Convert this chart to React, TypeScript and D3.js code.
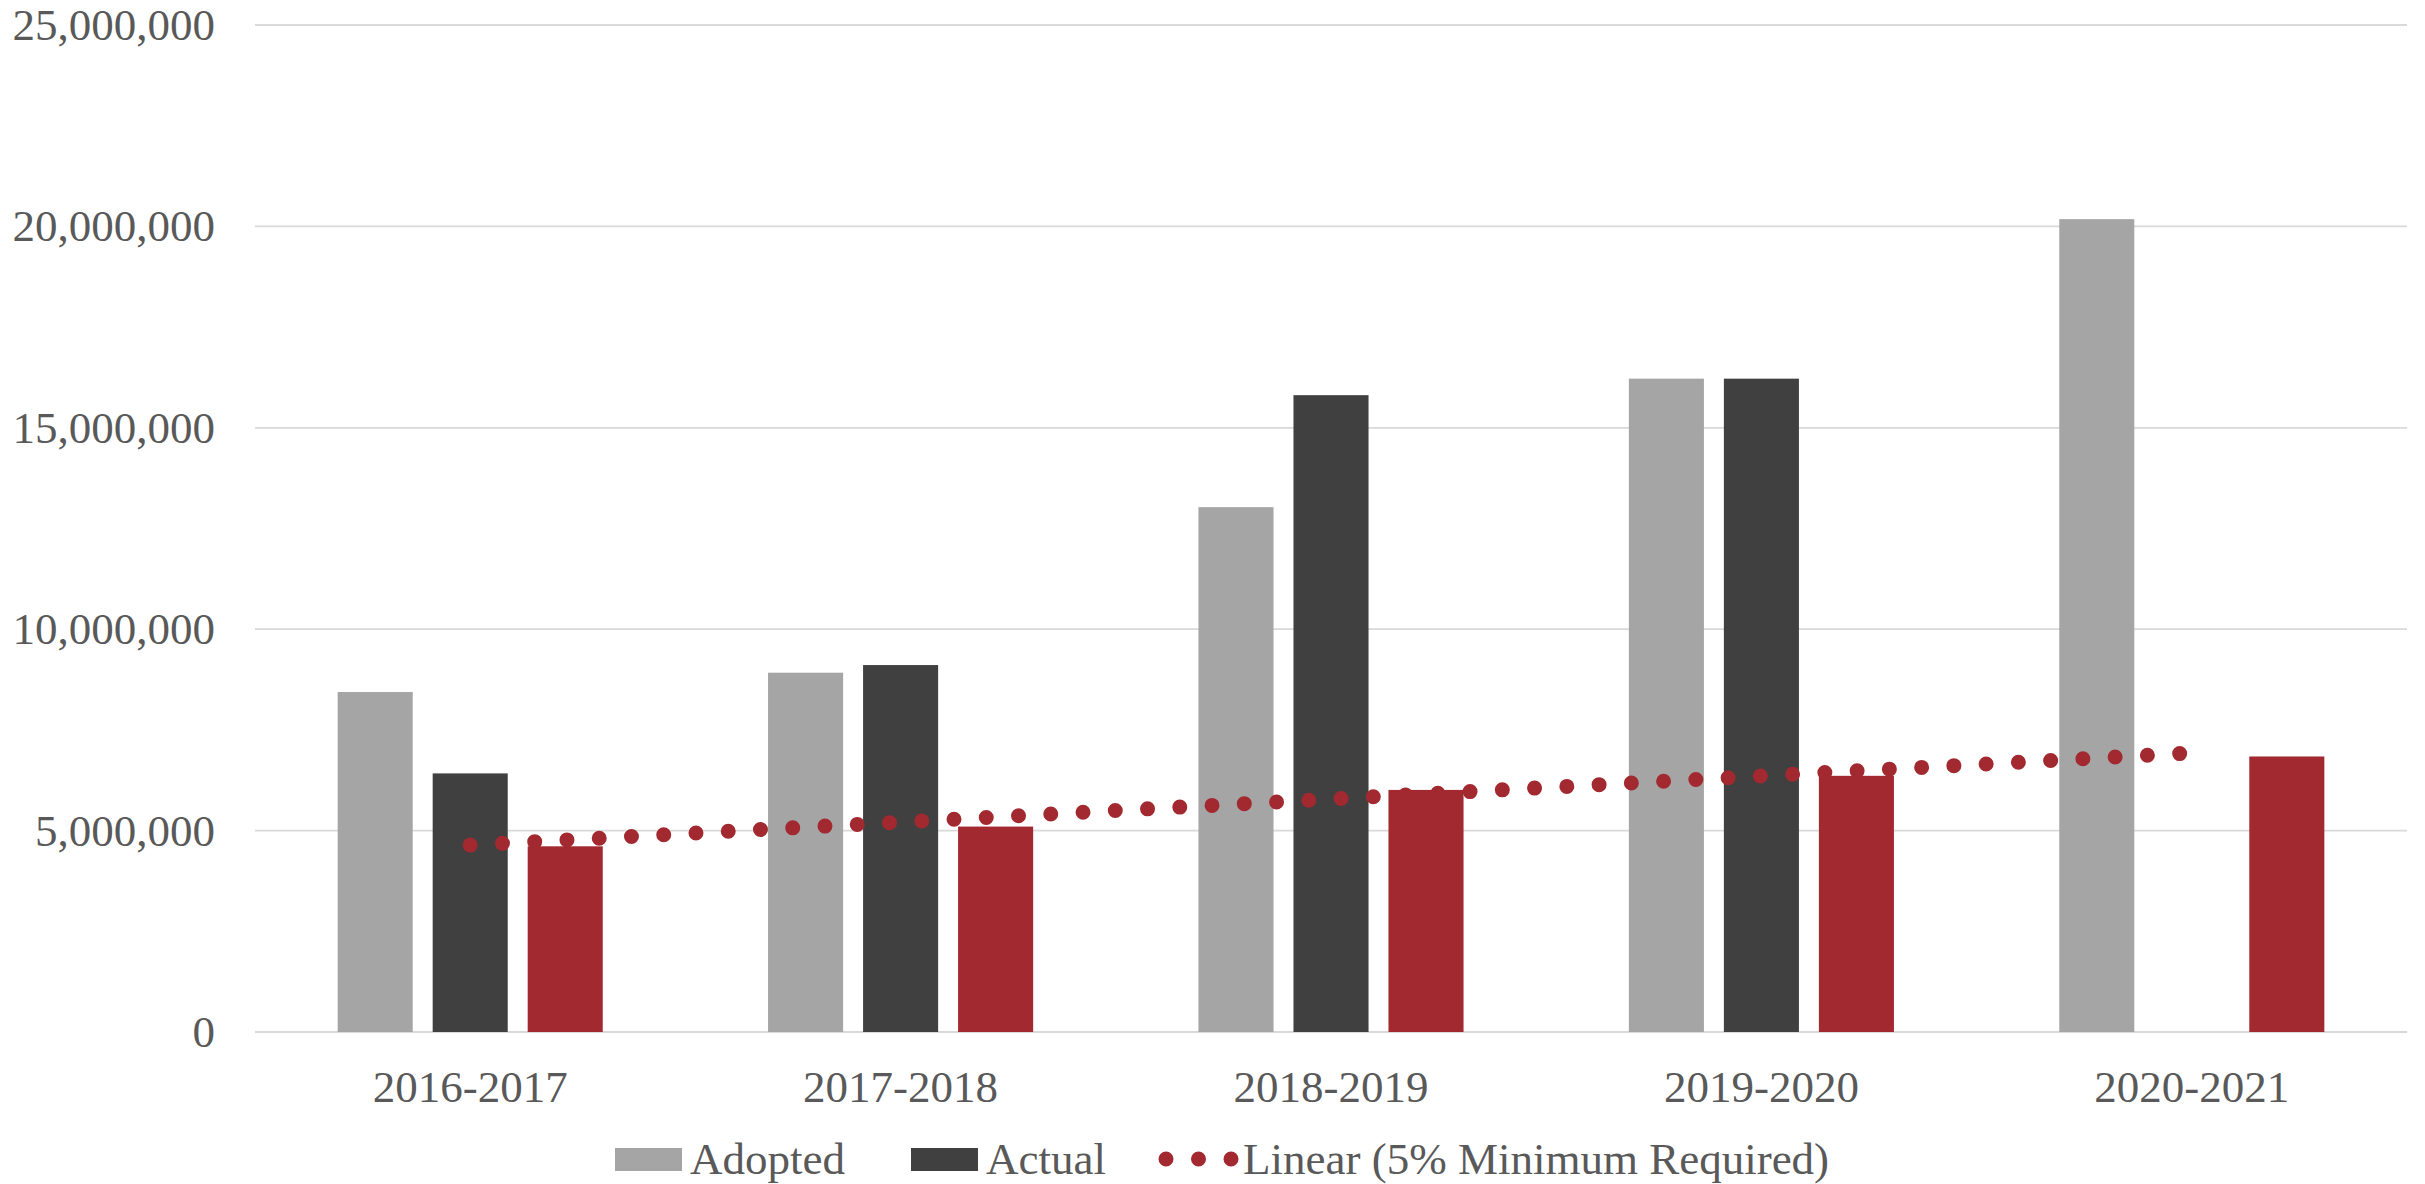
import * as d3 from "d3";

const categories: string[] = ["2016-2017", "2017-2018", "2018-2019", "2019-2020", "2020-2021"];
const adopted: number[] = [8440000, 8920000, 13030000, 16220000, 20180000];
const actual: (number | null)[] = [6420000, 9110000, 15810000, 16220000, null];
const minimumRequired: number[] = [4610000, 5100000, 6010000, 6360000, 6840000];
const yTicks: number[] = [0, 5000000, 10000000, 15000000, 20000000, 25000000];

const RED = "#A2292F";
const TEXT = "#595959";
const FONT = "'Liberation Serif', 'Times New Roman', serif";

const W = 2425;
const H = 1184;
const left = 255;
const right = 2407;
const top = 25;
const bottom = 1032;

const App = () => {
  const x0 = d3.scaleBand<string>().domain(categories).range([left, right]).padding(0);
  const series = ["adopted", "actual", "min"];
  const x1 = d3
    .scaleBand<string>()
    .domain(series)
    .range([0, x0.bandwidth()])
    .paddingInner(0.21)
    .paddingOuter(0.87);
  const y = d3.scaleLinear().domain([0, 25000000]).range([bottom, top]);
  const fmt = d3.format(",");

  // least squares linear trend of the red series
  const xs = minimumRequired.map((_, i) => i + 1);
  const mx = d3.mean(xs) as number;
  const my = d3.mean(minimumRequired) as number;
  const slope =
    (d3.sum(xs, (v, i) => (v - mx) * (minimumRequired[i] - my)) as number) /
    (d3.sum(xs, (v) => (v - mx) ** 2) as number);
  const trend = xs.map((v) => my + slope * (v - mx));
  const trendLine = d3
    .line<number>()
    .x((_, i) => (x0(categories[i]) as number) + x0.bandwidth() / 2)
    .y((d) => y(d));

  const barData = categories.flatMap((c, i) => [
    { c, s: "adopted", v: adopted[i], color: "#A5A5A5" },
    { c, s: "actual", v: actual[i], color: "#404040" },
    { c, s: "min", v: minimumRequired[i], color: RED },
  ]);

  return (
    <div style={{ position: "absolute", left: 0, top: 0, width: W, height: H, background: "#fff" }}>
      <svg width={W} height={H} style={{ display: "block" }} fontFamily={FONT}>
        {yTicks.map((t) => (
          <g key={t}>
            <line x1={left} x2={right} y1={y(t)} y2={y(t)} stroke="#D9D9D9" strokeWidth={1.8} />
            <text x={215} y={y(t) + 15} textAnchor="end" fontSize={45} fill={TEXT}>
              {fmt(t)}
            </text>
          </g>
        ))}
        {barData
          .filter((d) => d.v != null)
          .map((d) => (
            <rect
              key={d.c + d.s}
              x={(x0(d.c) as number) + (x1(d.s) as number)}
              y={y(d.v as number)}
              width={x1.bandwidth()}
              height={y(0) - y(d.v as number)}
              fill={d.color}
            />
          ))}
        <path
          d={trendLine(trend) as string}
          fill="none"
          stroke={RED}
          strokeWidth={15}
          strokeLinecap="round"
          strokeDasharray="0 32.3"
        />
        {categories.map((c) => (
          <text
            key={c}
            x={(x0(c) as number) + x0.bandwidth() / 2}
            y={1102}
            textAnchor="middle"
            fontSize={45}
            fill={TEXT}
          >
            {c}
          </text>
        ))}
        <g>
          <rect x={615} y={1148} width={67} height={23} fill="#A5A5A5" />
          <text x={690} y={1174} fontSize={45} fill={TEXT}>
            Adopted
          </text>
          <rect x={911} y={1148} width={67} height={23} fill="#404040" />
          <text x={986} y={1174} fontSize={45} fill={TEXT}>
            Actual
          </text>
          <line
            x1={1166}
            x2={1232}
            y1={1159}
            y2={1159}
            stroke={RED}
            strokeWidth={15}
            strokeLinecap="round"
            strokeDasharray="0 32.5"
          />
          <text x={1243} y={1174} fontSize={45} fill={TEXT}>
            Linear (5% Minimum Required)
          </text>
        </g>
      </svg>
    </div>
  );
};

export default App;
